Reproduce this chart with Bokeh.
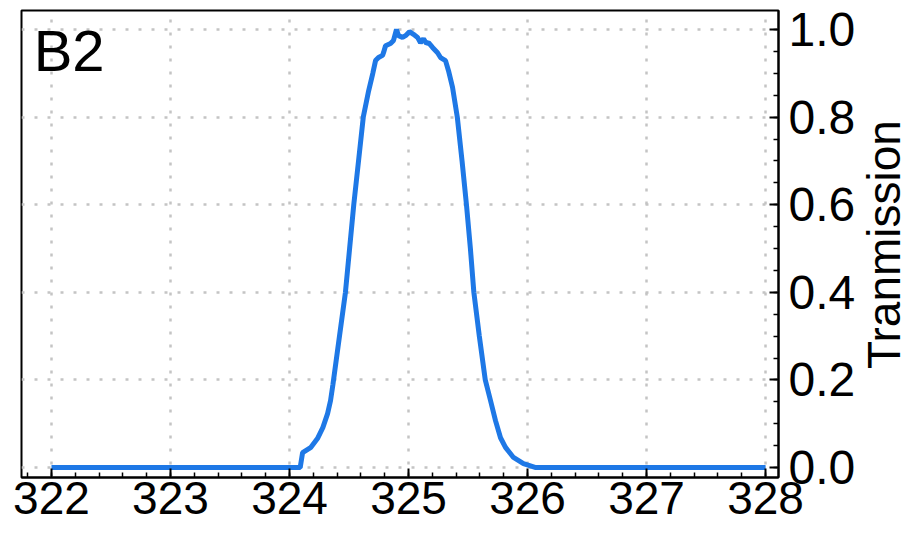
import math
from bokeh.plotting import figure
from bokeh.models import Range1d, SingleIntervalTicker, NumeralTickFormatter, Label
from bokeh.embed import file_html
from bokeh.resources import INLINE

# ---- data ----
wavelength = [322.0, 324.09, 324.11, 324.18, 324.235, 324.28, 324.32, 324.345, 324.365,
              324.42, 324.47, 324.505, 324.54, 324.58, 324.62, 324.665, 324.70, 324.723,
              324.748, 324.782, 324.79, 324.807, 324.849, 324.874, 324.899, 324.916,
              324.95, 324.975, 325.008, 325.042, 325.076, 325.101, 325.126, 325.151,
              325.168, 325.202, 325.244, 325.269, 325.311, 325.336, 325.37, 325.41,
              325.45, 325.487, 325.52, 325.549, 325.595, 325.645, 325.689, 325.731,
              325.773, 325.815, 325.882, 325.966, 326.07, 328.0]
transmission = [0.0, 0.0, 0.034, 0.046, 0.066, 0.091, 0.123, 0.153, 0.19,
                0.30, 0.40, 0.50, 0.60, 0.70, 0.80, 0.86, 0.90, 0.929,
                0.936, 0.941, 0.947, 0.963, 0.968, 0.975, 1.0, 0.986,
                0.982, 0.986, 0.995, 0.989, 0.982, 0.970, 0.979, 0.968,
                0.970, 0.959, 0.947, 0.936, 0.929, 0.906, 0.868, 0.80,
                0.70, 0.60, 0.50, 0.40, 0.30, 0.20, 0.153, 0.107,
                0.068, 0.046, 0.023, 0.009, 0.0, 0.0]
panel_label = "B2"
y_title = "Tranmission"

FONT = "Liberation Sans"
X0, X1 = 321.748, 328.109
Y0, Y1 = -0.0228, 1.0434

p = figure(width=915, height=534, output_backend="svg", toolbar_location=None,
           x_range=Range1d(X0, X1), y_range=Range1d(Y0, Y1),
           y_axis_location="right", min_border_left=21, min_border_top=10,
           min_border_right=137, min_border_bottom=57)
p.background_fill_color = "white"
p.border_fill_color = "white"
p.outline_line_color = "black"
p.outline_line_width = 2

p.line(wavelength, transmission, line_color="#1e78e6", line_width=5)

# axes
xax = p.xaxis[0]
xax.ticker = SingleIntervalTicker(interval=1, num_minor_ticks=5)
yax = p.yaxis[0]
yax.ticker = SingleIntervalTicker(interval=0.2, num_minor_ticks=4)
yax.formatter = NumeralTickFormatter(format="0.0")
for ax in (xax, yax):
    ax.axis_line_color = "black"
    ax.axis_line_width = 2
    ax.major_tick_in = 9
    ax.major_tick_out = 0
    ax.minor_tick_in = 5
    ax.minor_tick_out = 0
    ax.major_tick_line_width = 2
    ax.minor_tick_line_width = 1.5
    ax.major_tick_line_color = "black"
    ax.minor_tick_line_color = "black"
    ax.major_label_text_font = FONT
    ax.major_label_text_color = "black"
xax.major_label_text_font_size = "46px"
yax.major_label_text_font_size = "48px"
xax.major_label_standoff = 4
yax.major_label_standoff = 10

# grid
for g in (p.xgrid[0], p.ygrid[0]):
    g.grid_line_color = "#c4c4c4"
    g.grid_line_width = 2.5
    g.grid_line_dash = "3 10"

# panel tag
p.add_layout(Label(x=321.85, y=0.952, text=panel_label, text_font=FONT,
                   text_font_size="58px", text_color="black",
                   text_align="left", text_baseline="middle"))

# y-axis title placed in the right side panel (reads bottom-to-top)
p.add_layout(Label(x=25, y=233, x_units="screen", y_units="screen",
                   text=y_title, text_font=FONT,
                   text_font_size="46px", text_color="black", angle=math.pi / 2,
                   text_align="center", text_baseline="middle"), "right")

open("out.html", "w").write(file_html(p, INLINE))
